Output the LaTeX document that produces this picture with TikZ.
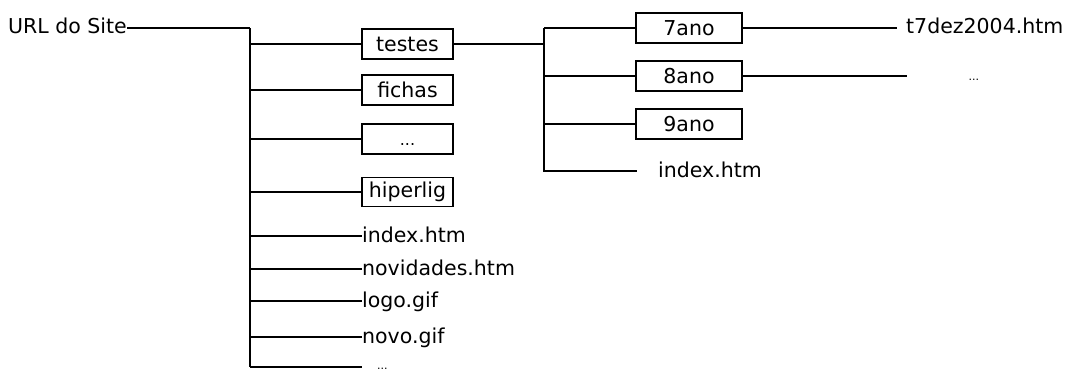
\documentclass[tikz,border=0pt]{standalone}
\usepackage{fontspec}
\setmainfont{DejaVu Sans}
\begin{document}
\begin{tikzpicture}[x=1pt,y=-1pt,
  link/.style={line width=1.8pt},
  trunkline/.style={line width=2.8pt},
  folder/.style={draw, line width=1.8pt, minimum width=91pt, minimum height=30pt,
    inner sep=0pt, font=\fontsize{20.5}{24}\selectfont},
  subfolder/.style={folder, minimum width=106pt},
  filename/.style={inner sep=0pt, anchor=west, text height=13pt, text depth=1pt,
    font=\fontsize{20.5}{24}\selectfont},
  more/.style={inner sep=0pt, anchor=base west}]
\useasboundingbox (0,0) rectangle (1069,372);

% root
\node[filename] (site) at (8,28) {URL do Site};
\coordinate (top) at (250,28);
\coordinate (bottom) at (250,367);

% first level
\node[folder] (testes) at (407.5,44) {testes};
\node[folder] (fichas) at (407.5,90) {fichas};
\node[folder, font=\fontsize{16}{18}\selectfont] (others) at (407.5,139) {\vphantom{h}...};
\node[folder, minimum height=29pt] (hiperlig) at (407.5,192) {hiperlig};
\node[filename] (index) at (362,236) {index.htm};
\node[filename] (novidades) at (362,269) {novidades.htm};
\node[filename] (logo) at (362,301) {logo.gif};
\node[filename] (novo) at (362,337) {novo.gif};
\coordinate (lastend) at (362,367);
\node[more, font=\fontsize{11}{12}\selectfont] (lastmore) at (377,369.5) {...};

\draw[link] (site.east) -- (top);
\draw[trunkline] (top) -- (bottom);
\draw[link] (bottom) -- (lastend);
\foreach \n in {testes,fichas,others,hiperlig,index,novidades,logo,novo}
  \draw[link] (top |- \n.west) -- (\n.west);

% second level under testes
\coordinate (subtop) at (544,28);
\coordinate (subbottom) at (544,171);
\node[subfolder] (ano7) at (689,28) {7ano};
\node[subfolder] (ano8) at (689,76) {8ano};
\node[subfolder] (ano9) at (689,124) {9ano};
\node[filename] (subindex) at (658,171) {index.htm};
\coordinate (subindexend) at (637,171);

\draw[link] (testes.east) -- (subtop |- testes.east);
\draw[link] (subtop) -- (subbottom) -- (subindexend);
\foreach \n in {ano7,ano8,ano9}
  \draw[link] (subtop |- \n.west) -- (\n.west);

% third level
\node[filename] (t7) at (906,28) {t7dez2004.htm};
\coordinate (t7end) at (897,28);
\coordinate (ano8end) at (907,76);
\node[more, font=\fontsize{11}{12}\selectfont] (ano8more) at (968.5,80) {...};
\draw[link] (ano7.east) -- (t7end);
\draw[link] (ano8.east) -- (ano8end);
\end{tikzpicture}
\end{document}
